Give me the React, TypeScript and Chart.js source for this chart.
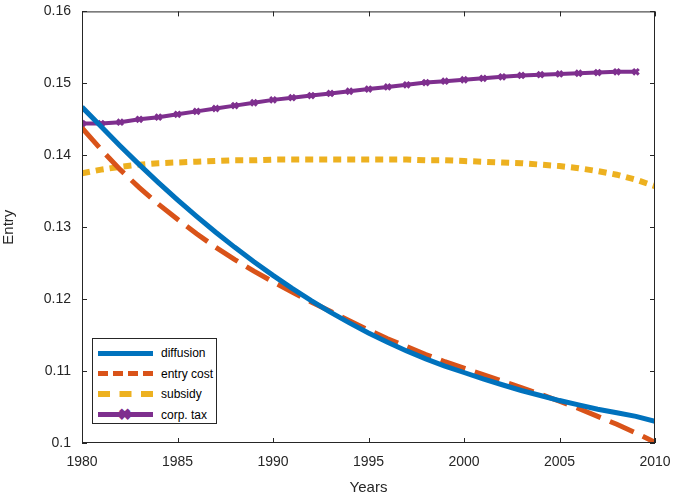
import { useEffect, useRef } from 'react';
import { Chart, registerables } from 'chart.js';

Chart.register(...registerables);

const years = Array.from({ length: 31 }, (_, i) => 1980 + i);
const diffusion = [0.1467, 0.144, 0.1413, 0.1387, 0.1362, 0.1338, 0.1315, 0.1293, 0.1272, 0.1252, 0.1233, 0.1215, 0.1198, 0.1182, 0.1167, 0.1153, 0.114, 0.1128, 0.1117, 0.1107, 0.1098, 0.1089, 0.1081, 0.1073, 0.1066, 0.1059, 0.1053, 0.1047, 0.1042, 0.1037, 0.103];
const entryCost = [0.1438, 0.1408, 0.138, 0.1355, 0.1332, 0.1311, 0.1291, 0.1272, 0.1255, 0.1239, 0.1224, 0.121, 0.1196, 0.1183, 0.117, 0.1157, 0.1145, 0.1134, 0.1123, 0.1113, 0.1104, 0.1095, 0.1086, 0.1077, 0.1068, 0.1058, 0.1048, 0.1037, 0.1026, 0.1014, 0.1001];
const subsidy = [0.1375, 0.138, 0.1384, 0.1387, 0.1389, 0.139, 0.1391, 0.1392, 0.1393, 0.1393, 0.1394, 0.1394, 0.1394, 0.1394, 0.1394, 0.1394, 0.1394, 0.1394, 0.1393, 0.1393, 0.1392, 0.1391, 0.139, 0.1389, 0.1387, 0.1385, 0.1382, 0.1378, 0.1373, 0.1366, 0.1357];
const corpTax = [0.1444, 0.1444, 0.1446, 0.145, 0.1453, 0.1457, 0.1461, 0.1465, 0.1469, 0.1473, 0.1477, 0.148, 0.1483, 0.1486, 0.1489, 0.1492, 0.1495, 0.1498, 0.1501, 0.1503, 0.1505, 0.1507, 0.1509, 0.1511, 0.1512, 0.1513, 0.1514, 0.1515, 0.1516, 0.1516];

const toPoints = (vals: number[]) => vals.map((y, i) => ({ x: years[i], y }));

const boxPlugin = {
  id: 'box',
  afterDraw(chart: Chart) {
    const { ctx, chartArea: a, scales } = chart;
    ctx.save();
    ctx.strokeStyle = '#262626';
    ctx.lineWidth = 1;
    ctx.strokeRect(a.left + 0.5, a.top + 0.5, a.width - 1, a.height - 1);
    ctx.beginPath();
    for (let x = 1980; x <= 2010; x += 5) {
      const px = Math.round(scales.x.getPixelForValue(x)) + 0.5;
      ctx.moveTo(px, a.bottom); ctx.lineTo(px, a.bottom - 5);
      ctx.moveTo(px, a.top); ctx.lineTo(px, a.top + 5);
    }
    for (let i = 0; i <= 6; i++) {
      const py = Math.round(scales.y.getPixelForValue(0.1 + i * 0.01)) + 0.5;
      ctx.moveTo(a.left, py); ctx.lineTo(a.left + 5, py);
      ctx.moveTo(a.right, py); ctx.lineTo(a.right - 5, py);
    }
    ctx.stroke();
    ctx.restore();
  },
};

const legendItems = [
  { label: 'diffusion', color: '#0072BD', style: 'solid' },
  { label: 'entry cost', color: '#D95319', style: 'dashed' },
  { label: 'subsidy', color: '#EDB120', style: 'dotted' },
  { label: 'corp. tax', color: '#7E2F8E', style: 'solid' },
];

export default function App() {
  const ref = useRef<HTMLCanvasElement>(null);
  const inst = useRef<Chart | null>(null);

  useEffect(() => {
    if (!ref.current) return;
    if (inst.current) inst.current.destroy();
    const font = { family: 'Liberation Sans, Arial, sans-serif', size: 14 };
    inst.current = new Chart(ref.current, {
      type: 'line',
      data: {
        datasets: [
          { label: 'diffusion', data: toPoints(diffusion), borderColor: '#0072BD', borderWidth: 5, pointRadius: 0 },
          { label: 'entry cost', data: toPoints(entryCost), borderColor: '#D95319', borderWidth: 5, borderDash: [26, 10], pointRadius: 0 },
          { label: 'subsidy', data: toPoints(subsidy), borderColor: '#EDB120', borderWidth: 6, borderDash: [8, 6], pointRadius: 0 },
          { label: 'corp. tax', data: toPoints(corpTax), borderColor: '#7E2F8E', backgroundColor: '#7E2F8E', borderWidth: 4, pointStyle: 'crossRot', pointRadius: 4, pointBorderWidth: 3 },
        ],
      },
      options: {
        animation: false,
        responsive: false,
        layout: { padding: { top: 10, right: 20, left: 0, bottom: 0 } },
        plugins: { legend: { display: false }, tooltip: { enabled: false } },
        scales: {
          x: {
            type: 'linear', min: 1980, max: 2010,
            grid: { display: false },
            border: { display: false },
            ticks: { stepSize: 5, color: '#262626', font, callback: (v) => String(v) },
            title: { display: true, text: 'Years', color: '#262626', font: { ...font, size: 15 }, padding: { top: 0, bottom: 4 } },
            afterFit: (axis) => { axis.height = 58; },
          },
          y: {
            min: 0.1, max: 0.16,
            grid: { display: false },
            border: { display: false },
            ticks: { stepSize: 0.01, color: '#262626', font, callback: (v) => String(Number(Number(v).toFixed(2))) },
            title: { display: true, text: 'Entry', color: '#262626', font: { ...font, size: 15 }, padding: 0 },
            afterFit: (axis) => { axis.width = 82; },
          },
        },
      },
      plugins: [boxPlugin],
    });
    return () => { inst.current?.destroy(); inst.current = null; };
  }, []);

  return (
    <div style={{ position: 'fixed', left: 0, top: 0, width: 675, height: 501, background: '#fff' }}>
      <canvas ref={ref} width={675} height={501} />
      <div style={{ position: 'absolute', left: 92, top: 338, width: 125, height: 86, border: '1px solid #262626', background: '#fff', fontFamily: 'Liberation Sans, Arial, sans-serif', fontSize: 12, color: '#000', boxSizing: 'border-box', paddingTop: 4 }}>
        {legendItems.map((it) => (
          <div key={it.label} style={{ display: 'flex', alignItems: 'center', height: 20.5 }}>
            <div style={{ position: 'relative', marginLeft: 5, width: 55, height: 0, borderTop: it.style === 'solid' ? `5px solid ${it.color}` : it.style === 'dashed' ? `5px dashed ${it.color}` : `6px dashed ${it.color}` }}>
              {it.label === 'corp. tax' && (
                <span style={{ position: 'absolute', left: 20, top: -12, color: it.color, fontSize: 16, fontWeight: 'bold' }}>✖</span>
              )}
            </div>
            <span style={{ marginLeft: 8 }}>{it.label}</span>
          </div>
        ))}
      </div>
    </div>
  );
}
